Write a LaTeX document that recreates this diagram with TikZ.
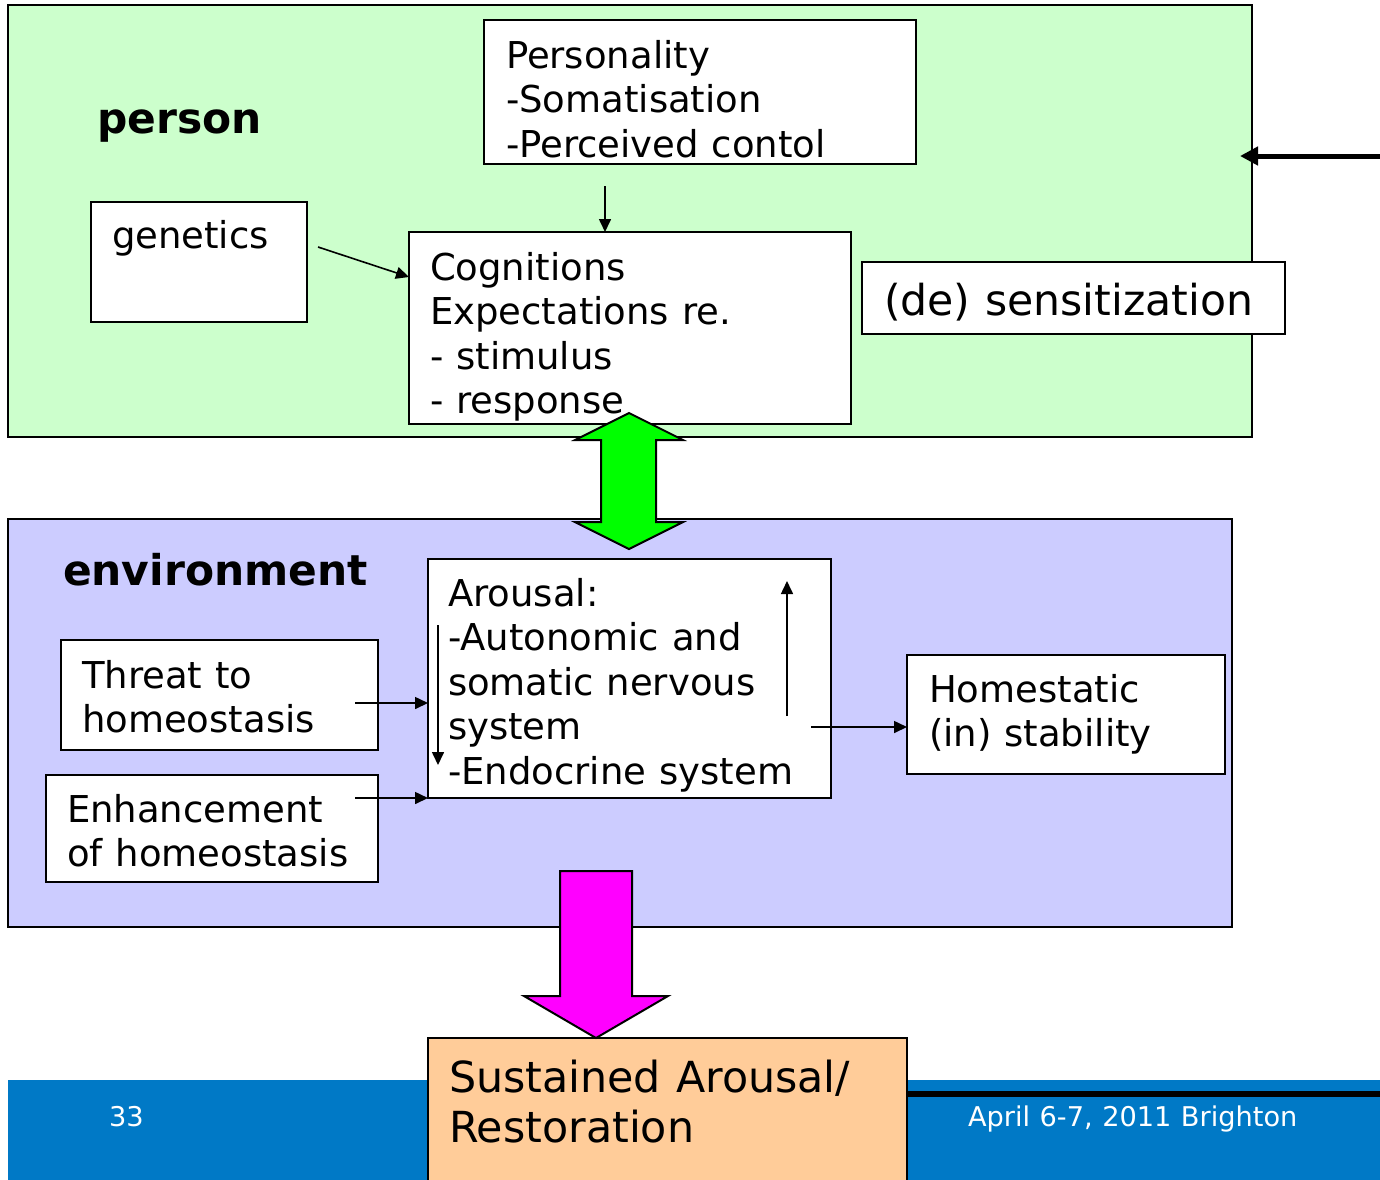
\documentclass[tikz,border=0pt]{standalone}
\usepackage{fontspec}
\setmainfont[WordSpace=1.1]{DejaVu Sans}
\usetikzlibrary{arrows.meta}

\definecolor{personbg}{HTML}{CCFFCC}
\definecolor{envbg}{HTML}{CCCCFF}
\definecolor{peach}{HTML}{FFCC99}
\definecolor{slideblue}{RGB}{0,121,198}
\definecolor{brightgreen}{HTML}{00FF00}
\definecolor{brightmagenta}{HTML}{FF00FF}

% stacked lines whose reference point is the baseline of the first line
\newcommand\stacklines[1]{\vtop{\lineskiplimit=-1000pt\lineskip=0pt #1}}

\begin{document}
\begin{tikzpicture}[
  x=0.5pt, y=-0.5pt,
  region/.style={draw, line width=1pt, anchor=north west, inner sep=0pt, outer sep=0pt},
  box/.style={draw, fill=white, line width=1pt, anchor=north west, inner sep=0pt, outer sep=0pt},
  txt/.style={anchor=base west, inner sep=0pt, outer sep=0pt, font=\fontsize{18.5pt}{22.3pt}\selectfont},
  bigtxt/.style={anchor=base west, inner sep=0pt, outer sep=0pt, font=\fontsize{21.3pt}{25pt}\selectfont},
  heading/.style={anchor=base west, inner sep=0pt, outer sep=0pt, font=\fontsize{21.2pt}{25pt}\selectfont\bfseries},
  foot/.style={anchor=base west, inner sep=0pt, outer sep=0pt, text=white, font=\fontsize{13.6pt}{16pt}\selectfont},
  arr/.style={-{Triangle[length=6.5pt,width=6pt]}, line width=0.8pt},
  thickarr/.style={-{Triangle[length=9pt,width=9pt]}, line width=2.5pt},
  blockarrow/.style={draw, line width=1pt, line join=miter},
]
\useasboundingbox (0,0) rectangle (1380,1179);
\clip (0,0) rectangle (1380,1179);

% background regions
\node[region, fill=personbg, minimum width=622pt, minimum height=216pt] (personregion) at (8,5) {};
\node[region, fill=envbg, minimum width=612pt, minimum height=204pt] (envregion) at (8,519) {};

% footer band
\node[region, draw=none, fill=slideblue, minimum width=690pt, minimum height=60pt] (footer) at (8,1080) {};

% person boxes
\node[box, minimum width=216pt, minimum height=72pt] (pers) at (484,20) {};
\node[box, minimum width=108pt, minimum height=60pt] (gen) at (91,202) {};
\node[box, minimum width=221pt, minimum height=96pt] (cog) at (409,232) {};
\node[box, minimum width=211.5pt, minimum height=36pt] (sens) at (862,262) {};

% environment boxes
\node[box, minimum width=201.5pt, minimum height=119.5pt] (aro) at (428,559) {};
\node[box, minimum width=158.5pt, minimum height=55pt] (thr) at (61,640) {};
\node[box, minimum width=166pt, minimum height=53.5pt] (enh) at (46,775) {};
\node[box, minimum width=159pt, minimum height=59.5pt] (home) at (907,655) {};

% outcome box
\node[box, fill=peach, minimum width=239.5pt, minimum height=81pt] (sus) at (428,1038) {};
\draw[line width=3pt] (sus.east |- 0,1094) coordinate (barstart) -- (1380,1094) coordinate (barend);

% headings
\node[heading] (lblperson) at (97,133) {person};
\node[heading] (lblenv) at (63,585) {environment};

% box texts
\node[txt] (perstxt) at (506,68) {\stacklines{\hbox{Personality}\hbox{-Somatisation}\hbox{-Perceived contol}}};
\node[txt] (gentxt) at (112,248) {genetics};
\node[txt] (cogtxt) at (430,280) {\stacklines{\hbox{Cognitions}\hbox{Expectations re.}\hbox{- stimulus}\hbox{- response}}};
\node[bigtxt] (senstxt) at (884,315) {(de) sensitization};
\node[txt] (arotxt) at (448,606) {\stacklines{\hbox{Arousal:}\hbox{-Autonomic and}\hbox{somatic nervous}\hbox{system}\hbox{-Endocrine system}}};
\node[txt] (thrtxt) at (82,688) {\stacklines{\hbox{Threat to}\hbox{homeostasis}}};
\node[txt] (enhtxt) at (67,822) {\stacklines{\hbox{Enhancement}\hbox{of homeostasis}}};
\node[txt] (hometxt) at (929,702) {\stacklines{\hbox{Homestatic}\hbox{(in) stability}}};
\node[bigtxt, font=\fontsize{21.4pt}{25pt}\selectfont] (sustxt) at (449,1092) {\stacklines{\hbox{Sustained Arousal/}\hbox{Restoration}}};

% footer texts
\node[foot] (pagenum) at (109,1126) {33};
\node[foot] (datetxt) at (968,1126) {April 6-7, 2011 Brighton};

% connectors
\draw[arr] ([shift={(121,22)}]pers.south west) -- ([shift={(196,0)}]cog.north west);
\draw[arr] ([shift={(11,45)}]gen.north east) -- ([shift={(0,45)}]cog.north west);
\coordinate (feed) at (1380,156);
\draw[thickarr] (feed) -- ([shift={(-12,151)}]personregion.north east);

\draw[arr] ([shift={(-23,63)}]thr.north east) -- ([shift={(0,144)}]aro.north west);
\draw[arr] ([shift={(-23,23)}]enh.north east) -- (aro.south west);
\draw[arr] ([shift={(10,66)}]aro.north west) -- ([shift={(10,206)}]aro.north west);
\draw[arr] ([shift={(-44,157)}]aro.north east) -- ([shift={(-44,22)}]aro.north east);
\draw[arr] ([shift={(-20,168)}]aro.north east) -- ([shift={(0,72)}]home.north west);

% two-way block arrow between person and environment
\draw[blockarrow, fill=brightgreen]
  (629,413) -- (683,440) -- (656,440) -- (656,522) -- (683,522) -- (629,549)
  -- (575,522) -- (601,522) -- (601,440) -- (575,440) -- cycle;

% block arrow down to the outcome
\draw[blockarrow, fill=brightmagenta]
  (560,871) -- (632,871) -- (632,996) -- (668,996) -- (596,1038)
  -- (524,996) -- (560,996) -- cycle;
\end{tikzpicture}
\end{document}
